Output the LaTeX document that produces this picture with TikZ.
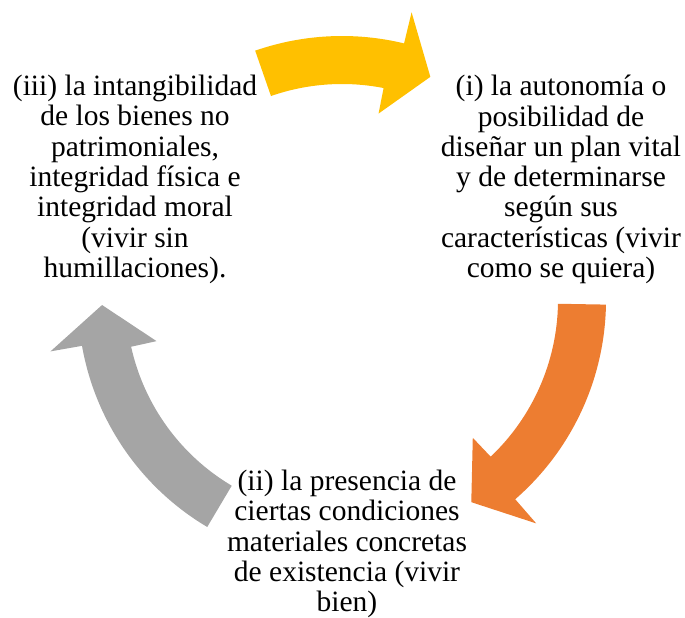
\documentclass[tikz,border=0pt]{standalone}
\usepackage{fontspec}
\setmainfont{Liberation Serif}
\definecolor{arrYellow}{HTML}{FFC000}
\definecolor{arrOrange}{HTML}{ED7D31}
\definecolor{arrGray}{HTML}{A5A5A5}
\tikzset{
  blocktext/.style={anchor=north, inner sep=0pt, align=center,
    font=\fontsize{29.5}{30.3}\selectfont, text=black},
}
% tail angle, head base angle, tip angle, colour
\newcommand{\cyclearrow}[4]{%
  \fill[#4, shift={(C)}] (#1:264) arc[start angle=#1, end angle={#2-1}, radius=264]
    -- ({#2-1}:296) -- (#3:240) -- ({#2+1.5}:190) -- ({#2+1.5}:216)
    arc[start angle={#2+1.5}, end angle=#1, radius=216] -- cycle;}
\begin{document}
\begin{tikzpicture}[x=1pt,y=1pt]
\useasboundingbox (0,0) rectangle (685,618);
\coordinate (C) at (342,318);
\cyclearrow{109.2}{77.4}{68.4}{arrYellow}
\cyclearrow{-1}{-48}{-57.4}{arrOrange}
\cyclearrow{239.3}{191}{181.2}{arrGray}
\node[blocktext] (one) at (561,543) {(i) la autonomía o\\posibilidad de\\diseñar un plan vital\\y de determinarse\\según sus\\características (vivir\\como se quiera)};
\node[blocktext] (three) at (135,543) {(iii) la intangibilidad\\de los bienes no\\patrimoniales,\\integridad física e\\integridad moral\\(vivir sin\\humillaciones).};
\node[blocktext] (two) at (347,148) {(ii) la presencia de\\ciertas condiciones\\materiales concretas\\de existencia (vivir\\bien)};
\end{tikzpicture}
\end{document}
